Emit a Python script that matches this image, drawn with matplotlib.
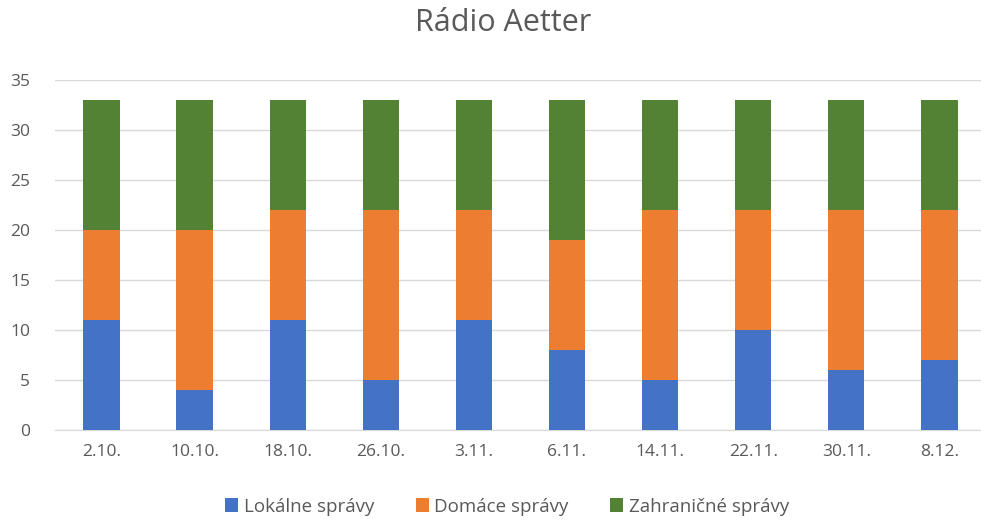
import matplotlib.pyplot as plt
import numpy as np

plt.rcParams['font.family'] = ['Open Sans', 'DejaVu Sans']

datumy = ["2.10.", "10.10.", "18.10.", "26.10.", "3.11.", "6.11.",
          "14.11.", "22.11.", "30.11.", "8.12."]
lokalne = [11, 4, 11, 5, 11, 8, 5, 10, 6, 7]
domace = [9, 16, 11, 17, 11, 11, 17, 12, 16, 15]
zahranicne = [13, 13, 11, 11, 11, 14, 11, 11, 11, 11]

text_col = "#595959"

fig = plt.figure(figsize=(9.81, 5.21), dpi=100)
# os presahuje pravy okraj obrazka, mriezka ide az po kraj
ax = fig.add_axes([0.056, 0.175, 0.949, 0.671])

x = np.arange(len(datumy))
w = 0.39
dole = np.array(lokalne)
ax.bar(x, lokalne, w, color="#4472C4", label="Lokálne správy", zorder=3)
ax.bar(x, domace, w, bottom=dole, color="#ED7D31", label="Domáce správy", zorder=3)
dole = dole + np.array(domace)
ax.bar(x, zahranicne, w, bottom=dole, color="#548235", label="Zahraničné správy", zorder=3)

ax.set_xlim(-0.5, len(datumy) - 0.5)
ax.set_ylim(0, 35)
ax.set_yticks(range(0, 36, 5))
ax.set_xticks(x)
ax.set_xticklabels(datumy)
ax.grid(axis='y', color="#d9d9d9", linewidth=1, zorder=0)
for s in ["top", "right", "left"]:
    ax.spines[s].set_visible(False)
ax.spines["bottom"].set_color("#d9d9d9")
ax.tick_params(length=0, labelsize=12.5, colors=text_col)
ax.tick_params(axis='x', pad=10)
ax.tick_params(axis='y', pad=18)

fig.suptitle("Rádio Aetter", x=0.513, y=0.985, fontsize=22, color=text_col)
fig.legend(loc="lower center", ncol=3, frameon=False, fontsize=13.5,
           labelcolor=text_col, bbox_to_anchor=(0.517, -0.022),
           handlelength=0.7, handleheight=0.7, handletextpad=0.3, columnspacing=2.2)

fig.savefig("out.png", dpi=100)
